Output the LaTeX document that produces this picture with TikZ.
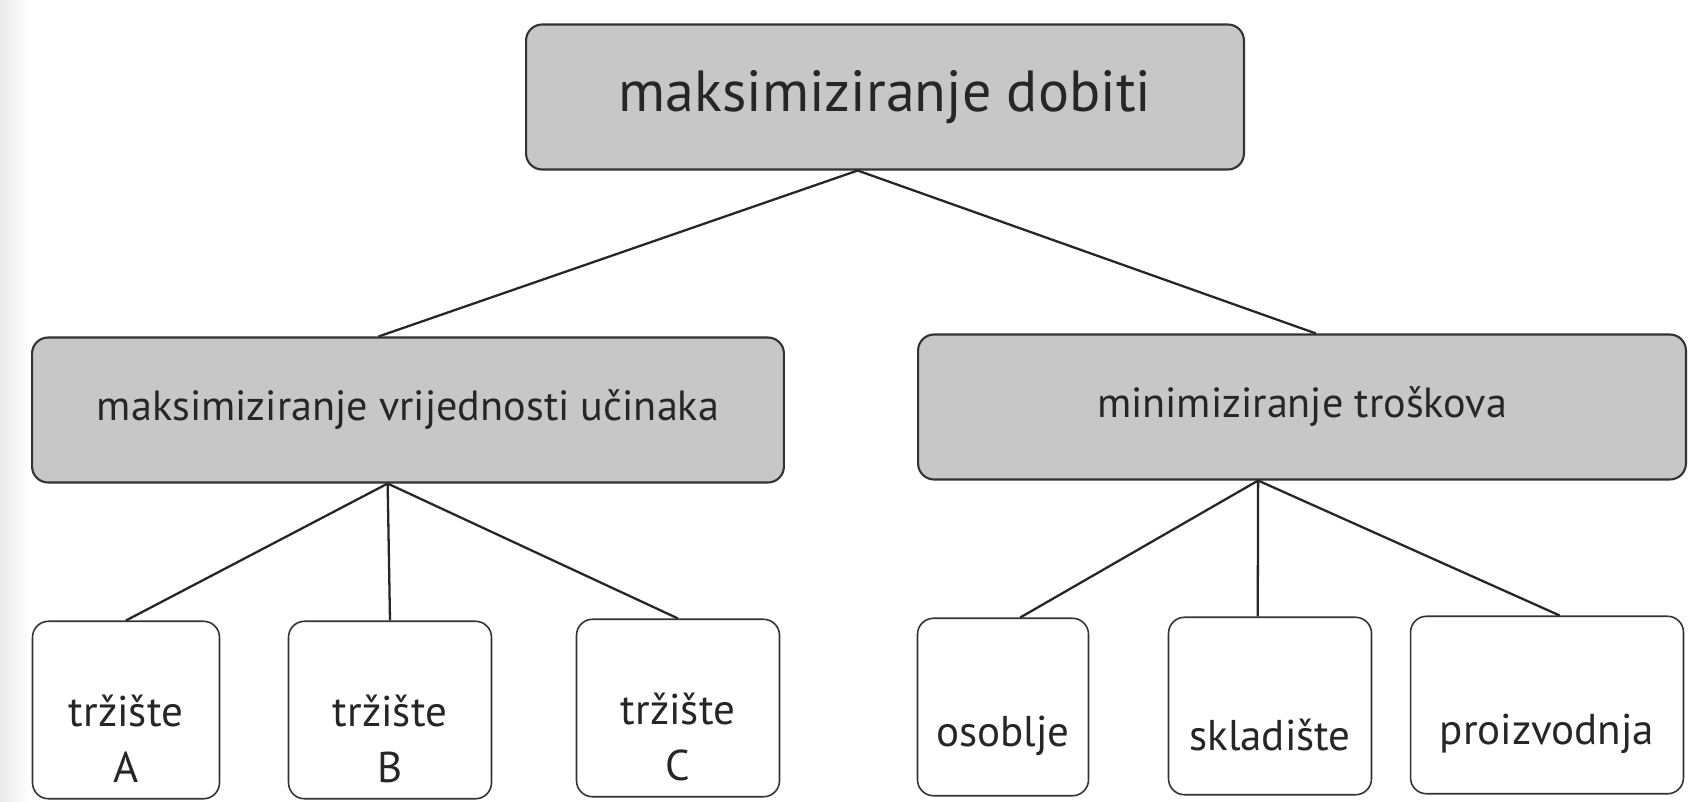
\documentclass[tikz,border=0pt]{standalone}
\usepackage{fontspec}
\setmainfont{PT Sans}
\usetikzlibrary{positioning,calc}

\begin{document}
\begin{tikzpicture}[x=0.02cm, y=-0.02cm,
    every node/.style={font=\fontsize{24.5}{32}\selectfont, text=black!85},
    goal/.style={draw=black!80, line width=1.2pt, fill=black!22, rounded corners=0.32cm, minimum height=2.9cm},
    leaf/.style={draw=black!80, line width=0.9pt, fill=white, rounded corners=0.32cm, minimum height=3.55cm},
    link/.style={black!85, line width=1.3pt}]
    \useasboundingbox (0,0) rectangle (1689,801);
    \fill[white] (0,0) rectangle (1689,801);
    % scanned page edge
    \shade[left color=black!8, right color=white] (0,0) rectangle (30,801);

    % Top goal
    \node[goal, minimum width=14.36cm, font=\fontsize{33}{40}\selectfont] (dobit) at (885,97) {maksimiziranje dobiti};

    % Second level
    \node[goal, minimum width=15.04cm, font=\fontsize{24}{30}\selectfont] (ucin) at (408,410) {maksimiziranje vrijednosti učinaka};
    \node[goal, minimum width=15.36cm, font=\fontsize{24}{30}\selectfont] (tros) at (1302,407) {minimiziranje troškova};

    % Markets
    \node[leaf, minimum width=3.74cm, label={[yshift=-0.58cm, align=center]center:tržište\\A}] (trzA) at (126,710) {};
    \node[leaf, minimum width=4.06cm, label={[yshift=-0.58cm, align=center]center:tržište\\B}] (trzB) at (390,710) {};
    \node[leaf, minimum width=4.06cm, label={[yshift=-0.58cm, align=center]center:tržište\\C}] (trzC) at (678,708) {};

    % Costs
    \node[leaf, minimum width=3.42cm, label={[yshift=-0.58cm]center:osoblje}] (osob) at (1003,707) {};
    \node[leaf, minimum width=4.06cm, label={[yshift=-0.58cm]center:skladište}] (sklad) at (1270,706) {};
    \node[leaf, minimum width=5.46cm, label={[yshift=-0.58cm]center:proizvodnja}] (proiz) at (1547,705) {};

    % Links
    \draw[link] ($(dobit.south west)!0.462!(dobit.south east)$) -- ($(ucin.north west)!0.461!(ucin.north east)$);
    \draw[link] ($(dobit.south west)!0.462!(dobit.south east)$) -- ($(tros.north west)!0.518!(tros.north east)$);

    \draw[link] ($(ucin.south west)!0.473!(ucin.south east)$) -- (trzA.north);
    \draw[link] ($(ucin.south west)!0.473!(ucin.south east)$) -- (trzB.north);
    \draw[link] ($(ucin.south west)!0.473!(ucin.south east)$) -- (trzC.north);

    \draw[link] ($(tros.south west)!0.443!(tros.south east)$) -- ($(osob.north west)!0.6!(osob.north east)$);
    \draw[link] ($(tros.south west)!0.443!(tros.south east)$) -- ($(sklad.north west)!0.44!(sklad.north east)$);
    \draw[link] ($(tros.south west)!0.443!(tros.south east)$) -- ($(proiz.north west)!0.546!(proiz.north east)$);
\end{tikzpicture}
\end{document}
